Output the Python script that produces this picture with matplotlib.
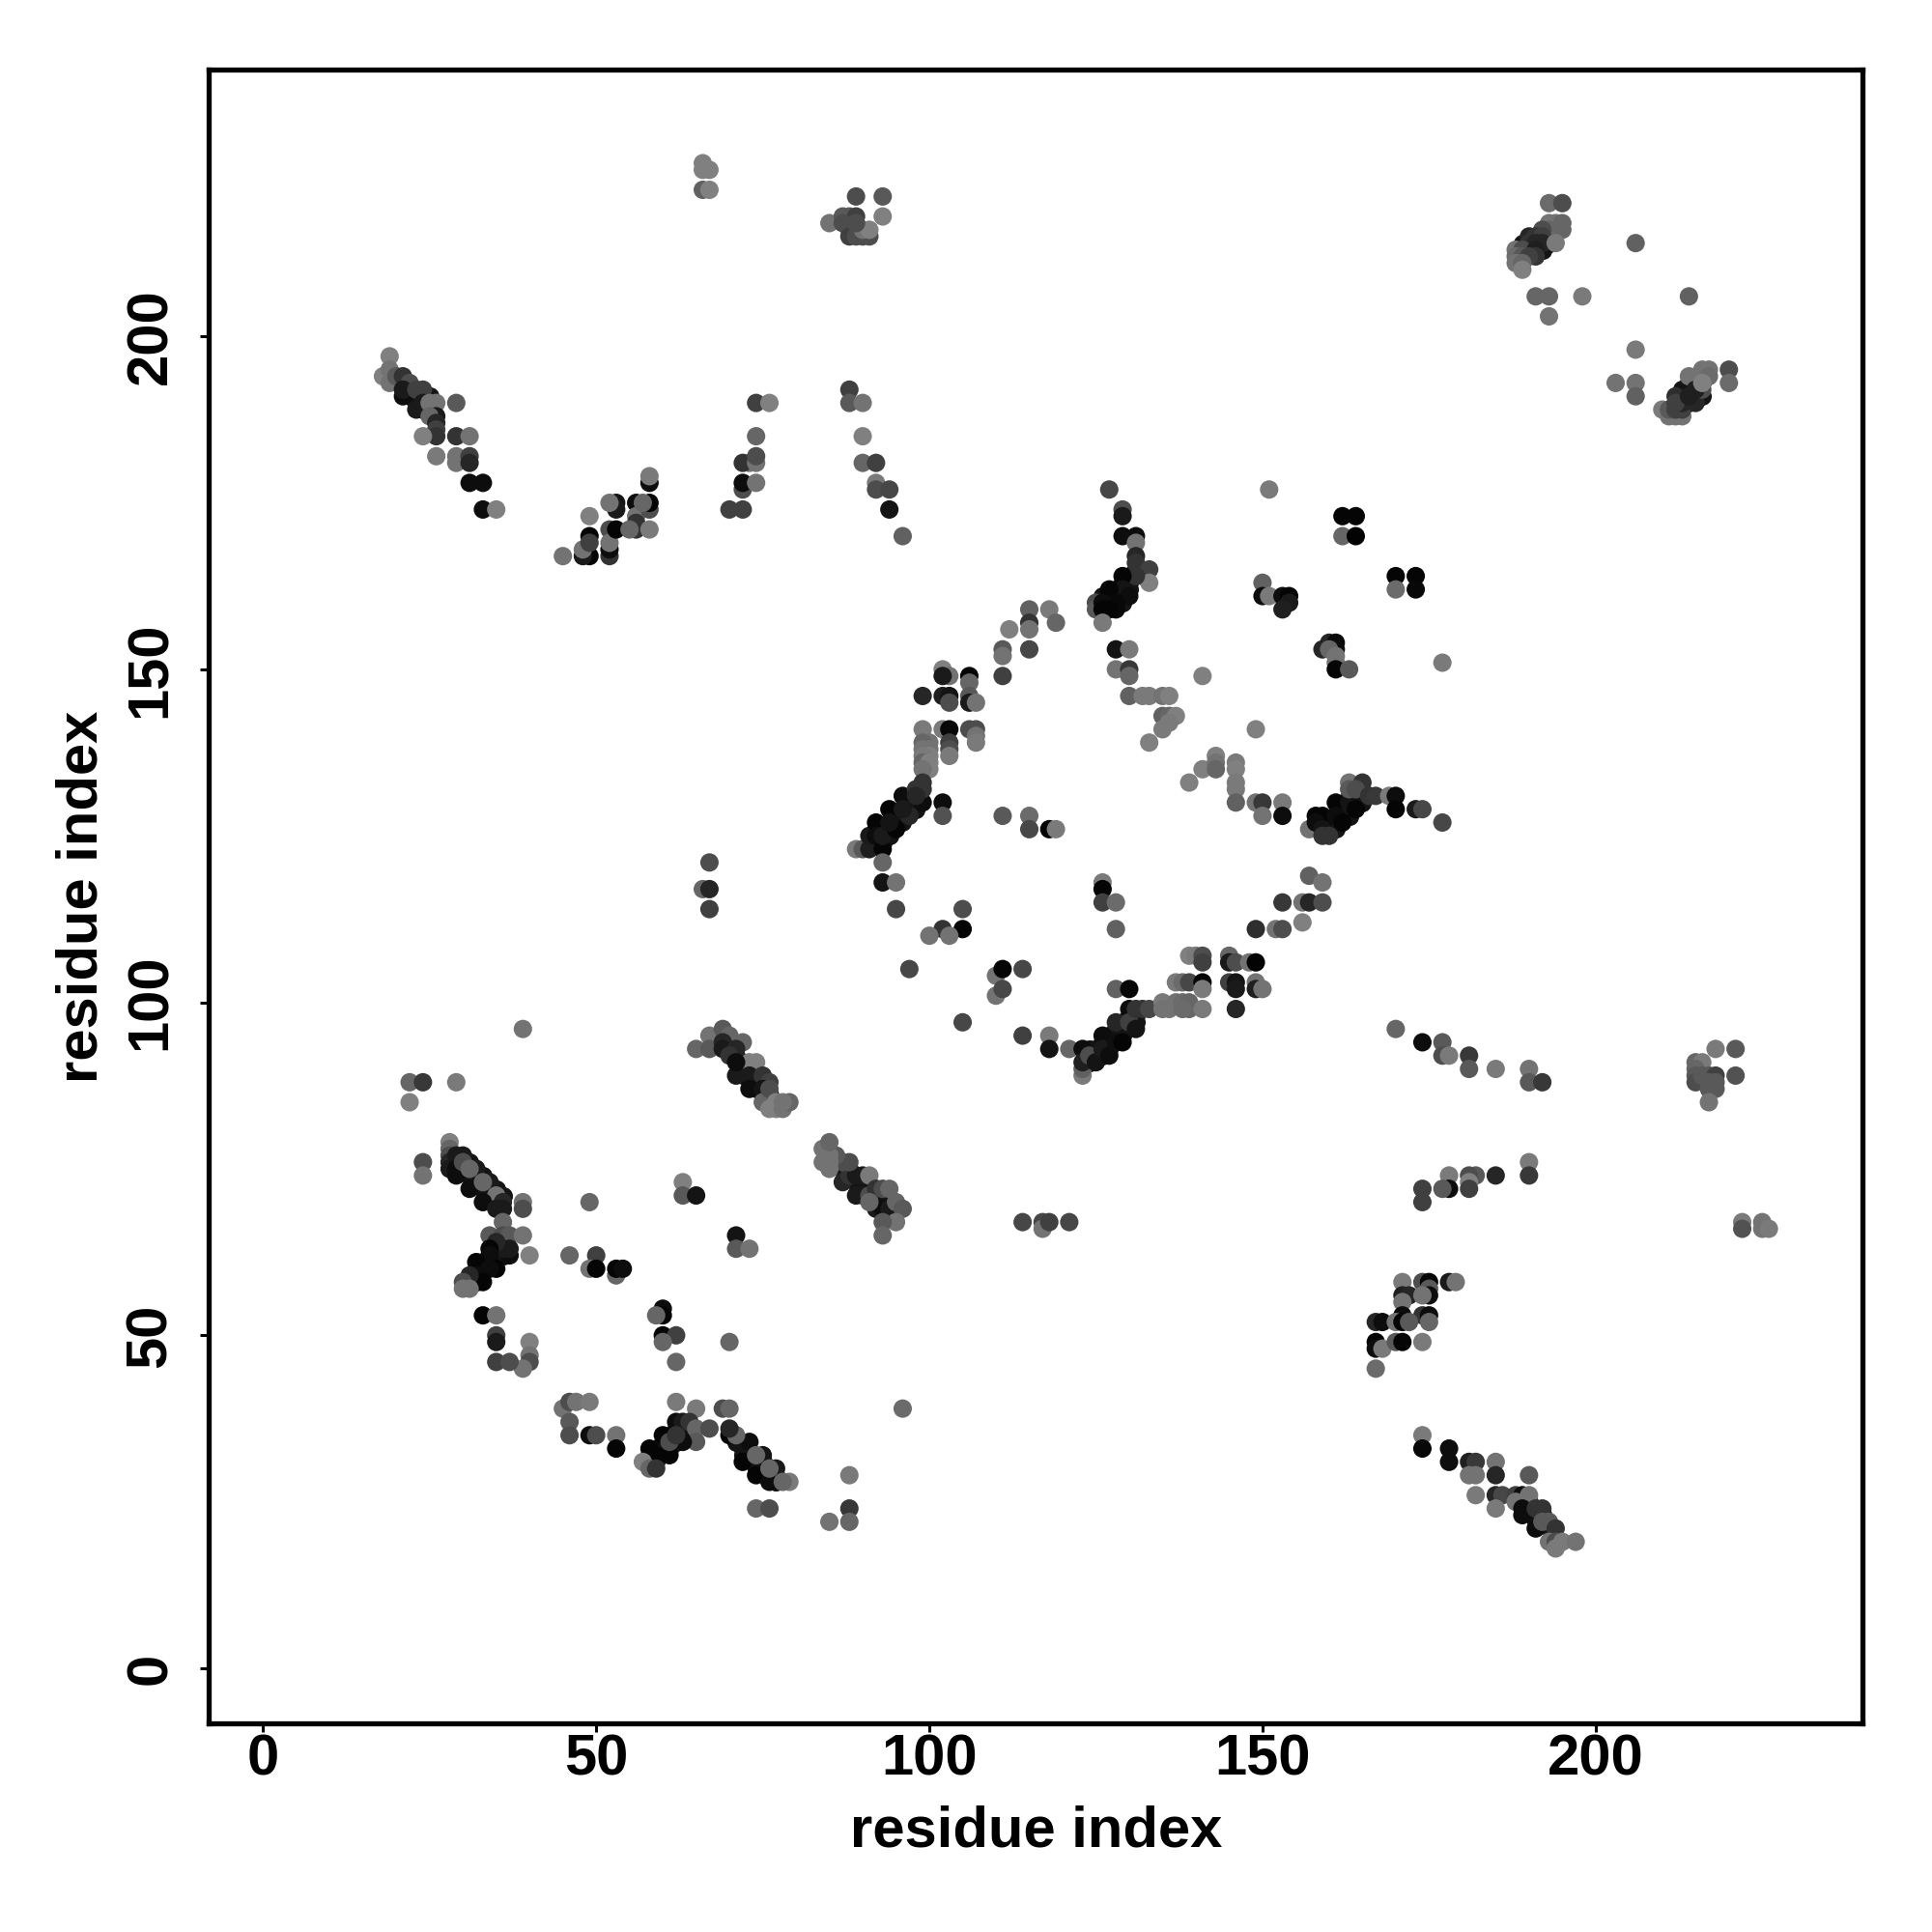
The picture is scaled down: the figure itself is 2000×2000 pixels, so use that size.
"""Residue contact map, grey level = contact strength."""
import matplotlib
matplotlib.use("Agg")
import matplotlib.pyplot as plt

plt.rcParams["font.family"] = ["Liberation Sans", "DejaVu Sans"]

# contacts hidden inside the dense strands, only seen as the dark core
core_i = [
    29, 30, 31, 32, 33, 34, 35, 31, 32, 33, 34, 35, 36,
    31, 32, 33, 33, 34, 35, 35, 36, 36, 32,
    58, 59, 60, 60, 61, 62, 61, 59, 62, 63, 63,
    71, 72, 73, 74, 75, 76, 77, 72, 74, 75, 76, 77,
    70, 71, 72, 72, 73, 74, 74, 75, 76, 72, 74,
    89, 90, 91, 92, 93, 94, 88, 87, 88,
    124, 125, 126, 127, 127, 128, 128, 129, 129, 130, 131, 124, 125, 126, 127, 129, 131,
    92, 93, 93, 94, 94, 95, 95, 96, 96, 97, 97, 98, 98, 92,
    160, 160, 161, 162, 162, 163, 163, 164, 165, 161, 165,
    127, 128, 129, 129, 129, 130, 130, 130, 131, 126, 128, 132,
    21, 22, 22, 23, 23, 24, 24, 25, 25,
    190, 192, 193, 193, 189,
    213, 214, 214, 215, 216, 216, 213, 214,
    190, 190, 191, 191, 192, 193, 189,
]
core_j = [
    76, 75, 74, 73, 72, 71, 70, 76, 74, 74, 72, 72, 71,
    58, 60, 60, 61, 61, 62, 63, 62, 64, 58,
    32, 33, 33, 34, 35, 36, 33, 31, 34, 36, 35,
    34, 33, 32, 31, 30, 29, 28, 32, 30, 31, 30, 29,
    93, 92, 91, 90, 90, 89, 88, 88, 86, 89, 87,
    73, 72, 72, 71, 70, 69, 75, 75, 74,
    91, 93, 94, 94, 95, 95, 96, 96, 97, 98, 97, 93, 92, 92, 93, 95, 98,
    124, 124, 126, 125, 126, 127, 128, 128, 127, 129, 130, 129, 130, 126,
    127, 126, 127, 128, 129, 128, 131, 130, 131, 126, 130,
    160, 161, 160, 161, 163, 162, 163, 164, 165, 161, 162, 164,
    193, 192, 191, 191, 190, 191, 189, 189, 191,
    213, 213, 215, 214, 214,
    191, 190, 192, 191, 191, 193, 192, 193,
    25, 24, 23, 22, 23, 21, 25,
]

# one row per cluster, the three lists break at the same places
res_i = [
    22, 24, 29, 22, 39, 24, 24,
    28, 28, 28, 28, 28, 29, 30, 29, 29, 30, 32, 34, 35, 36, 36, 31, 33, 35, 33, 31,
    39, 39, 36, 34, 36, 37, 39, 40, 37, 37, 36, 35, 34, 34, 35, 32, 32, 34, 33, 31, 30, 31, 30,
    46, 50, 49, 49, 50, 53, 53, 54, 63, 63, 65, 71, 71, 73,
    33, 35, 35, 35, 40, 40, 40, 39, 35, 37, 60, 60, 59, 60, 62, 60, 62, 70,
    45, 46, 47, 49, 46, 46, 49, 50, 53, 53, 62, 65, 69, 70,
    62, 63, 64, 65, 67, 65, 63, 60, 61, 58, 59, 57, 58, 59, 61, 62,
    70, 73, 72, 75, 74, 77, 76, 79, 78, 71, 74, 76, 70,
    74, 76, 85, 88, 88, 88, 96,
    65, 67, 67, 69, 70, 72, 69, 69, 71, 70, 71, 73, 74, 71, 73, 73, 75, 76, 75, 75, 76, 77, 76, 77, 78, 79, 78,
    87, 89, 90, 92, 93, 94, 88, 89, 90, 87, 88, 86, 85, 85, 84, 84, 85, 85, 91, 91, 92, 93, 94, 91, 95, 96, 95, 93, 93,
    19, 18, 19, 19, 20, 21, 22, 21, 21, 23, 24, 23, 24, 25, 26, 29, 26, 25, 26, 26, 26, 24, 29, 31, 26, 29, 29, 31, 31, 31, 33, 33, 35,
    45, 49, 48, 48, 49, 49, 49, 52, 52, 52, 52, 53, 53, 53, 52, 56, 56, 56, 56, 55, 58, 58, 58, 57, 58, 58,
    70, 72, 72, 72, 74, 73, 72, 74, 74, 74, 74, 76,
    88, 88, 90, 90, 90, 92, 92, 92, 94, 94, 96,
    66, 67, 66, 66, 67, 89, 93, 93, 85, 87, 88, 89, 87, 88, 88, 89, 90, 91, 90, 91, 89,
    127, 151, 129, 129, 129, 131, 131, 131, 131, 133, 133, 131, 129, 129, 127, 130, 128, 125, 125, 126, 126, 128, 127, 126,
    115, 118, 119, 115, 115, 112, 115, 111, 111, 111, 128, 130, 128, 130, 130, 141,
    106, 106, 102, 103, 102, 99, 102, 103, 103, 106, 106, 107, 130, 132, 133, 135, 136, 135, 136, 137, 136, 135, 133, 149,
    99, 102, 103, 106, 107, 107, 107, 103, 103, 103, 100, 99, 100, 99, 100, 99, 99, 100, 100, 99,
    143, 141, 143, 143, 146, 146, 146, 146, 146, 139, 149, 150, 153, 150, 153, 157,
    158, 159, 159, 158, 159, 160, 159, 161, 161, 162, 163, 164, 163, 163, 165, 164, 166, 167, 169, 170, 170, 173, 174, 177,
    89, 90, 91, 91, 92, 92, 93, 93, 94, 93, 95, 94, 96, 97, 96, 98, 99, 99, 99, 98, 102, 102,
    111, 115, 115, 118, 119, 93, 95, 95, 105, 105, 102, 100, 103,
    126, 126, 126, 128, 128, 157, 159, 153, 156, 157, 159, 156, 149, 152, 153,
    162, 164, 162, 164, 170, 173, 170, 173, 150, 150, 151, 153, 154, 154, 153,
    160, 161, 159, 161, 160, 161, 161, 161, 163, 177,
    105, 97, 110, 111, 114, 110, 111, 114, 118, 118, 121,
    128, 130, 123, 123, 123, 123, 124, 125, 126, 126, 127, 128, 128, 129, 130, 130, 131, 131, 132, 133,
    135, 136, 135, 137, 138, 139, 139, 138, 141, 137, 138, 139, 141, 141, 139, 140, 141, 141,
    145, 145, 146, 148, 149, 145, 146, 146, 149, 149, 150, 146,
    170, 174, 177, 177, 178, 181, 181, 185, 190, 190, 192,
    218, 221, 221, 215, 216, 215, 215, 215, 216, 217, 218, 217, 218, 217, 218, 217,
    190, 190, 185, 182, 181, 178, 181, 181, 178, 177, 174, 174,
    222, 222, 225, 225, 226,
    171, 174, 175, 178, 179, 175, 171, 172, 175, 174, 171, 171, 174, 175, 175,
    167, 168, 170, 171, 172, 167, 167, 168, 170, 171, 174, 167,
    174, 174, 178, 178, 181, 182, 181, 182, 185, 185, 182, 185, 186, 185, 190,
    188, 189, 190, 188, 189, 189, 191, 192, 191, 192, 193, 194, 193, 194, 195, 197, 194,
    193, 195, 193, 194, 195, 195, 193, 192, 190, 191, 192, 190, 191, 192, 194,
    188, 189, 191, 188, 189, 191, 190, 188, 189, 189, 206, 191, 193, 198, 214, 193,
    206, 203, 206, 206, 210, 211, 212, 213, 211, 212, 213, 212, 213, 212, 215, 214, 215, 216, 214, 215,
    216, 217, 216, 217, 216, 220, 220,
    114, 117, 117, 118, 121, 67, 66, 67, 67,
]
res_j = [
    88, 88, 88, 85, 96, 76, 74,
    79, 78, 77, 76, 75, 77, 77, 75, 74, 76, 75, 73, 71, 70, 69, 72, 70, 69, 73, 75,
    70, 69, 67, 65, 65, 65, 65, 62, 62, 63, 63, 64, 63, 62, 60, 61, 59, 60, 58, 59, 58, 57, 57,
    62, 62, 70, 60, 60, 59, 60, 60, 73, 71, 71, 65, 63, 63,
    53, 53, 50, 49, 49, 47, 46, 45, 46, 46, 54, 53, 53, 50, 50, 49, 46, 49,
    39, 40, 40, 40, 37, 35, 35, 35, 35, 33, 40, 39, 39, 39,
    37, 37, 37, 36, 36, 34, 34, 35, 32, 33, 32, 31, 30, 30, 34, 35,
    35, 34, 31, 32, 29, 30, 28, 28, 28, 35, 32, 30, 36,
    24, 24, 22, 29, 24, 22, 39,
    93, 95, 93, 96, 95, 94, 94, 93, 93, 92, 89, 91, 91, 91, 89, 87, 89, 88, 87, 85, 87, 85, 84, 84, 84, 85, 85,
    73, 71, 71, 69, 69, 69, 74, 74, 74, 76, 76, 77, 76, 77, 76, 78, 75, 79, 74, 71, 72, 72, 72, 70, 70, 69, 67, 67, 65,
    197, 194, 195, 193, 194, 194, 193, 191, 192, 192, 192, 189, 190, 190, 190, 190, 188, 188, 187, 186, 185, 185, 185, 185, 182, 182, 181, 182, 181, 178, 178, 174, 174,
    167, 167, 167, 168, 170, 169, 173, 167, 168, 171, 169, 171, 175, 174, 175, 175, 173, 171, 172, 171, 171, 174, 175, 175, 178, 179,
    174, 174, 177, 178, 178, 181, 181, 181, 182, 185, 190, 190,
    192, 190, 190, 185, 181, 181, 178, 177, 177, 174, 170,
    226, 225, 225, 222, 222, 221, 221, 218, 217, 218, 218, 218, 217, 216, 215, 215, 215, 215, 216, 216, 217,
    177, 177, 174, 173, 170, 170, 169, 167, 166, 165, 163, 164, 164, 162, 162, 161, 160, 160, 159, 160, 159, 159, 159, 157,
    159, 159, 157, 157, 156, 156, 153, 153, 152, 149, 153, 153, 150, 150, 149, 149,
    149, 148, 150, 149, 149, 146, 146, 146, 145, 146, 145, 145, 146, 146, 146, 146, 146, 143, 143, 143, 142, 141, 139, 141,
    141, 141, 141, 141, 141, 140, 139, 139, 138, 137, 139, 139, 138, 138, 137, 137, 136, 136, 135, 135,
    137, 135, 136, 135, 136, 135, 133, 132, 130, 133, 130, 130, 130, 128, 128, 126,
    128, 128, 127, 127, 126, 125, 125, 130, 128, 127, 130, 129, 133, 132, 133, 132, 131, 131, 131, 131, 129, 129, 129, 127,
    123, 123, 123, 125, 127, 125, 123, 121, 129, 125, 126, 127, 131, 128, 129, 132, 130, 132, 133, 131, 130, 128,
    128, 128, 126, 126, 126, 118, 118, 114, 114, 111, 111, 110, 110,
    118, 117, 115, 115, 111, 119, 118, 115, 115, 115, 115, 112, 111, 111, 111,
    173, 173, 170, 170, 164, 164, 162, 162, 163, 161, 161, 161, 161, 160, 159,
    154, 154, 153, 153, 153, 152, 151, 150, 150, 151,
    97, 105, 104, 105, 105, 101, 102, 95, 95, 93, 93,
    102, 102, 89, 90, 93, 91, 92, 91, 95, 93, 92, 97, 94, 94, 99, 97, 96, 99, 99, 99,
    100, 99, 99, 100, 100, 100, 99, 99, 99, 103, 103, 103, 103, 102, 107, 107, 107, 106,
    107, 106, 106, 106, 106, 103, 103, 102, 103, 102, 102, 99,
    96, 94, 94, 92, 92, 92, 90, 90, 90, 88, 88,
    93, 93, 89, 91, 91, 90, 89, 88, 89, 89, 89, 88, 88, 87, 87, 85,
    76, 74, 74, 74, 74, 74, 73, 72, 72, 72, 72, 70,
    67, 66, 67, 66, 66,
    58, 58, 58, 58, 58, 57, 56, 56, 56, 56, 55, 53, 53, 53, 52,
    52, 52, 52, 52, 52, 49, 48, 48, 49, 49, 49, 45,
    35, 33, 33, 31, 31, 31, 29, 29, 31, 29, 26, 26, 26, 24, 29,
    26, 26, 26, 25, 24, 23, 24, 24, 21, 22, 22, 21, 19, 19, 19, 19, 18,
    220, 220, 217, 217, 217, 216, 216, 216, 215, 215, 215, 214, 214, 214, 214,
    213, 213, 213, 212, 212, 212, 212, 211, 211, 210, 214, 206, 206, 206, 206, 203,
    198, 193, 193, 191, 189, 188, 188, 188, 189, 189, 189, 191, 190, 190, 190, 191, 193, 192, 194, 192,
    195, 195, 194, 194, 193, 195, 193,
    67, 67, 66, 67, 67, 121, 117, 117, 114,
]
grey = [
    .40, .22, .48, .50, .45, .30, .45,
    .50, .40, .30, .15, .10, .10, .10, .05, .05, .30, .10, .10, .45, .15, .10, .05, .05, .10, .40, .40,
    .45, .30, .40, .35, .30, .35, .45, .50, .05, .10, .10, .15, .02, .05, .02, .02, .05, .05, .02, .15, .30, .45, .45,
    .40, .25, .40, .45, .02, .40, .02, .05, .50, .35, .08, .08, .35, .45,
    .02, .45, .25, .10, .50, .45, .30, .45, .25, .30, .05, .02, .40, .02, .25, .40, .40, .40,
    .45, .30, .45, .48, .35, .30, .05, .30, .45, .02, .48, .48, .30, .40,
    .05, .10, .20, .40, .30, .35, .05, .02, .02, .02, .02, .50, .40, .20, .30, .20,
    .02, .05, .02, .08, .02, .10, .05, .48, .40, .40, .40, .40, .15,
    .40, .30, .45, .48, .22, .40, .42,
    .40, .45, .35, .35, .40, .40, .15, .10, .15, .20, .10, .50, .50, .05, .10, .05, .20, .25, .08, .40, .30, .50, .50, .50, .45, .40, .45,
    .15, .10, .10, .10, .05, .10, .20, .10, .10, .30, .30, .35, .45, .45, .45, .45, .45, .40, .48, .30, .20, .30, .40, .40, .40, .35, .45, .35, .40,
    .50, .50, .45, .45, .35, .20, .30, .05, .10, .25, .25, .10, .10, .45, .45, .35, .10, .40, .15, .25, .20, .50, .20, .45, .48, .45, .45, .25, .15, .05, .05, .05, .50,
    .45, .02, .10, .45, .02, .25, .50, .20, .05, .30, .45, .02, .08, .10, .45, .05, .45, .20, .20, .40, .48, .30, .02, .40, .05, .48,
    .25, .25, .30, .05, .45, .45, .20, .45, .30, .40, .25, .50,
    .25, .35, .45, .50, .40, .25, .48, .30, .28, .08, .38,
    .50, .50, .50, .38, .50, .30, .35, .50, .45, .35, .35, .25, .30, .30, .25, .30, .30, .30, .45, .50, .30,
    .28, .48, .30, .10, .05, .05, .45, .15, .20, .25, .50, .20, .02, .08, .02, .05, .03, .30, .35, .05, .02, .03, .02, .48,
    .38, .48, .40, .20, .45, .50, .28, .35, .45, .25, .08, .48, .45, .22, .40, .50,
    .02, .40, .50, .45, .10, .15, .12, .08, .30, .35, .10, .45, .38, .48, .48, .45, .50, .38, .40, .50, .48, .48, .50, .50,
    .48, .48, .03, .30, .30, .45, .48, .25, .30, .48, .45, .40, .45, .45, .50, .48, .40, .50, .50, .45,
    .50, .50, .45, .40, .48, .50, .48, .48, .38, .50, .45, .22, .48, .45, .05, .45,
    .02, .02, .02, .05, .08, .20, .20, .02, .05, .02, .08, .02, .45, .35, .20, .30, .20, .22, .48, .05, .02, .10, .28, .28,
    .48, .35, .12, .10, .02, .05, .02, .40, .02, .10, .02, .08, .05, .15, .10, .20, .05, .20, .20, .15, .05, .32,
    .35, .42, .28, .02, .48, .08, .45, .28, .30, .02, .20, .45, .45,
    .48, .02, .25, .42, .38, .38, .45, .22, .45, .15, .30, .50, .18, .45, .30,
    .02, .02, .40, .01, .02, .02, .42, .03, .38, .05, .48, .05, .02, .10, .12,
    .15, .03, .15, .05, .40, .45, .45, .02, .35, .48,
    .28, .28, .45, .02, .28, .45, .28, .25, .48, .08, .40,
    .38, .03, .48, .38, .05, .12, .30, .08, .05, .10, .05, .15, .06, .02, .05, .25, .08, .20, .20, .28,
    .48, .45, .45, .45, .42, .40, .40, .42, .48, .48, .42, .28, .02, .48, .50, .48, .30, .25,
    .40, .10, .30, .45, .01, .25, .08, .10, .45, .12, .45, .15,
    .40, .05, .35, .30, .48, .22, .35, .48, .45, .35, .22,
    .48, .35, .32, .40, .48, .40, .35, .30, .35, .35, .25, .35, .35, .35, .35, .45,
    .48, .22, .15, .35, .30, .48, .50, .25, .05, .35, .25, .25,
    .48, .32, .45, .45, .48,
    .48, .30, .02, .10, .45, .35, .12, .15, .05, .45, .45, .05, .20, .05, .40,
    .15, .05, .45, .02, .35, .02, .05, .48, .35, .02, .48, .42,
    .48, .03, .05, .05, .12, .22, .45, .45, .45, .15, .48, .15, .28, .48, .35,
    .25, .05, .45, .45, .05, .05, .20, .20, .05, .35, .35, .20, .45, .30, .48, .45, .48,
    .42, .30, .45, .45, .40, .40, .40, .30, .15, .20, .25, .20, .15, .15, .48,
    .45, .30, .12, .42, .35, .20, .25, .45, .40, .50, .38, .40, .40, .48, .38, .45,
    .48, .45, .45, .38, .48, .45, .45, .45, .35, .25, .25, .18, .15, .25, .15, .12, .10, .30, .45, .12,
    .45, .45, .45, .42, .50, .30, .42,
    .28, .28, .45, .25, .28, .30, .40, .15, .25,
]

tick_vals = [0, 50, 100, 150, 200]
axis_label = "residue index"

fig = plt.figure(figsize=(10, 10), dpi=200)
ax = fig.add_axes([0.108, 0.108, 0.8562, 0.8558])

ax.scatter(core_i, core_j, s=47, c="0.08", linewidths=0, zorder=2)
ax.scatter(res_i, res_j, s=47, c=[str(g) for g in grey], linewidths=0, zorder=3)

ax.set_xlim(-8.16, 240.1)
ax.set_ylim(-8.26, 240)
ax.set_xticks(tick_vals)
ax.set_yticks(tick_vals)
ax.set_xticklabels([str(t) for t in tick_vals], fontsize=21.5, fontweight="bold")
ax.set_yticklabels([str(t) for t in tick_vals], fontsize=21.5, fontweight="bold",
                   rotation=90, va="center")
ax.tick_params(axis="both", length=3.1, width=1.1)
ax.tick_params(axis="x", pad=0.5)
ax.tick_params(axis="y", pad=8.4)
for side in ax.spines.values():
    side.set_linewidth(1.9)
ax.set_xlabel(axis_label, fontsize=21.5, fontweight="bold", labelpad=7)
ax.set_ylabel(axis_label, fontsize=21.5, fontweight="bold", labelpad=5.8)

fig.savefig("out.png", dpi=200, facecolor="white")
